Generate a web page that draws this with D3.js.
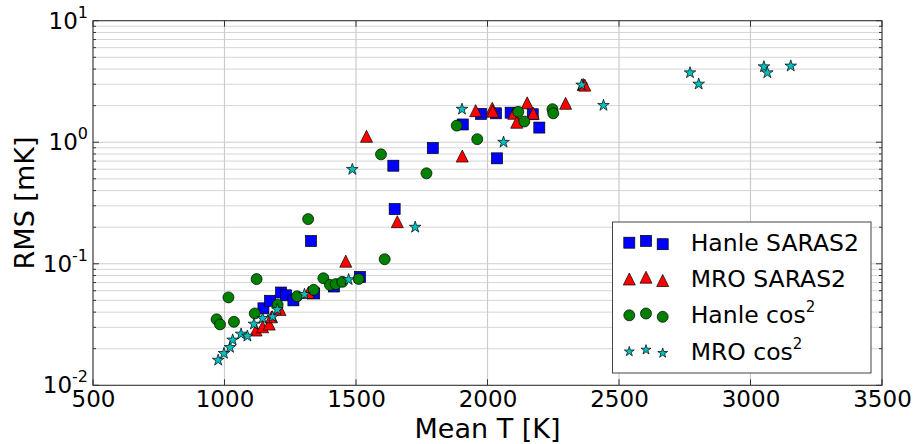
<!DOCTYPE html>
<html>
<head>
<meta charset="utf-8">
<script src="https://cdnjs.cloudflare.com/ajax/libs/d3/7.8.5/d3.min.js"></script>
<style>
  body { margin: 0; background: #fff; }
  text { font-family: "DejaVu Sans", sans-serif; fill: #000; }
</style>
</head>
<body>
<div id="chart"></div>
<script>
// Mean T [K] and RMS [mK] for each series
var hanleSarasT   = [1148, 1173, 1215, 1234, 1262, 1329, 1341, 1416, 1515, 1642, 1647, 1792, 1906, 1975, 2032, 2036, 2088, 2172, 2197];
var hanleSarasRms = [0.043, 0.0496, 0.058, 0.055, 0.050, 0.154, 0.057, 0.065, 0.078, 0.641, 0.282, 0.896, 1.40, 1.71, 1.73, 0.737, 1.75, 1.70, 1.32];

var mroSarasT   = [1120, 1145, 1170, 1179, 1211, 1319, 1461, 1540, 1657, 1904, 1955, 2018, 2020, 2100, 2111, 2151, 2174, 2297, 2364, 2370];
var mroSarasRms = [0.0285, 0.0303, 0.0319, 0.0366, 0.042, 0.058, 0.105, 1.12, 0.222, 0.77, 1.82, 1.90, 1.80, 1.73, 1.46, 2.11, 1.73, 2.09, 2.99, 2.95];

var hanleCosT   = [970, 983, 1015, 1036, 1115, 1122, 1202, 1276, 1318, 1339, 1376, 1401, 1423, 1448, 1510, 1595, 1609, 1768, 1883, 1961, 2117, 2140, 2247, 2250];
var hanleCosRms = [0.0349, 0.0317, 0.0529, 0.0333, 0.039, 0.0748, 0.046, 0.054, 0.233, 0.061, 0.076, 0.067, 0.068, 0.071, 0.075, 0.795, 0.109, 0.555, 1.37, 1.06, 1.78, 1.48, 1.87, 1.73];

var mroCosT   = [976, 998, 1021, 1031, 1063, 1087, 1112, 1145, 1183, 1201, 1304, 1472, 1486, 1725, 1903, 2061, 2358, 2441, 2770, 2803, 3051, 3064, 3153];
var mroCosRms = [0.0161, 0.0183, 0.0205, 0.0236, 0.0264, 0.0254, 0.0319, 0.0355, 0.0366, 0.042, 0.056, 0.074, 0.598, 0.2, 1.87, 1.0, 2.96, 2.01, 3.73, 3.01, 4.18, 3.73, 4.24];

var seriesNames = ["Hanle SARAS2", "MRO SARAS2", "Hanle cos", "MRO cos"];
var xTicks = [500, 1000, 1500, 2000, 2500, 3000, 3500];
var yTicks = [0.01, 0.1, 1, 10];
var yExponents = ["-2", "-1", "0", "1"];

var width = 915, height = 444;
var m = { left: 93, right: 882, top: 20.7, bottom: 385.3 };

var xScale = d3.scaleLinear().domain([500, 3500]).range([m.left, m.right]);
var yScale = d3.scaleLog().domain([0.01, 10]).range([m.bottom, m.top]);

var svg = d3.select("#chart").append("svg")
    .attr("width", width)
    .attr("height", height);

// minor + major grid on y (log), major only on x
var minorY = [];
[0.01, 0.1, 1].forEach(function(d){
  for (var k = 2; k <= 9; k++) minorY.push(d * k);
});

var grid = svg.append("g").attr("class", "grid");
grid.selectAll(".minor").data(minorY).enter().append("line")
    .attr("x1", m.left).attr("x2", m.right)
    .attr("y1", function(d){ return yScale(d); })
    .attr("y2", function(d){ return yScale(d); })
    .attr("stroke", "#d6d6d6").attr("stroke-width", 1);
grid.selectAll(".majy").data(yTicks).enter().append("line")
    .attr("x1", m.left).attr("x2", m.right)
    .attr("y1", function(d){ return yScale(d); })
    .attr("y2", function(d){ return yScale(d); })
    .attr("stroke", "#cccccc").attr("stroke-width", 1.2);
grid.selectAll(".majx").data(xTicks).enter().append("line")
    .attr("y1", m.top).attr("y2", m.bottom)
    .attr("x1", function(d){ return xScale(d); })
    .attr("x2", function(d){ return xScale(d); })
    .attr("stroke", "#cccccc").attr("stroke-width", 1.2);

// inward ticks on all four sides
var ticks = svg.append("g").attr("stroke", "#333").attr("stroke-width", 1);
xTicks.forEach(function(d){
  var x = xScale(d);
  ticks.append("line").attr("x1", x).attr("x2", x).attr("y1", m.bottom).attr("y2", m.bottom - 6);
  ticks.append("line").attr("x1", x).attr("x2", x).attr("y1", m.top).attr("y2", m.top + 6);
});
yTicks.concat(minorY).forEach(function(d){
  var y = yScale(d), len = yTicks.indexOf(d) >= 0 ? 6 : 3;
  ticks.append("line").attr("x1", m.left).attr("x2", m.left + len).attr("y1", y).attr("y2", y);
  ticks.append("line").attr("x1", m.right).attr("x2", m.right - len).attr("y1", y).attr("y2", y);
});

// x axis labels
svg.append("g")
    .attr("transform", "translate(0," + m.bottom + ")")
    .call(d3.axisBottom(xScale).tickValues(xTicks).tickSize(0).tickFormat(d3.format("d")))
    .call(function(g){ g.select(".domain").remove(); })
    .selectAll("text")
    .attr("dy", null)
    .attr("y", 22)
    .attr("fill", "#000")
    .style("font-family", "DejaVu Sans")
    .style("font-size", "23px");

// y axis labels as 10^n
var yLab = svg.append("g").selectAll("text").data(yTicks).enter().append("text")
    .attr("x", 88)
    .attr("y", function(d){ return yScale(d) + 8; })
    .attr("text-anchor", "end")
    .style("font-size", "23px");
yLab.append("tspan").text("10");
yLab.append("tspan")
    .attr("dy", -11)
    .style("font-size", "16px")
    .text(function(d, i){ return yExponents[i]; });

svg.append("text")
    .attr("x", xScale(2000))
    .attr("y", 438)
    .attr("text-anchor", "middle")
    .style("font-size", "27px")
    .text("Mean T [K]");

svg.append("text")
    .attr("transform", "translate(34," + ((m.top + m.bottom) / 2) + ") rotate(-90)")
    .attr("text-anchor", "middle")
    .style("font-size", "27px")
    .text("RMS [mK]");

// marker shapes
var shapes = [
  function(g, s){ return g.append("rect").attr("x", -5.5 * s).attr("y", -5.5 * s).attr("width", 11 * s).attr("height", 11 * s); },
  function(g, s){ var r = 6 * s; return g.append("path").attr("d", "M0," + (-r) + "L" + (-r) + "," + r + "L" + r + "," + r + "Z"); },
  function(g, s){ return g.append("circle").attr("r", 5.5 * s); },
  function(g, s){ return g.append("path").attr("d", d3.symbol().type(d3.symbolStar).size(42 * s * s)()); }
];
var colors = ["#0000ff", "#ff0000", "#008000", "#00bfbf"];

var series = [
  d3.zip(hanleSarasT, hanleSarasRms),
  d3.zip(mroSarasT, mroSarasRms),
  d3.zip(hanleCosT, hanleCosRms),
  d3.zip(mroCosT, mroCosRms)
];

var plot = svg.append("g");
series.forEach(function(data, i){
  plot.append("g").selectAll("g").data(data).enter().append("g")
      .attr("transform", function(d){ return "translate(" + xScale(d[0]) + "," + yScale(d[1]) + ")"; })
      .each(function(){
        shapes[i](d3.select(this), 1)
          .attr("fill", colors[i])
          .attr("stroke", "#000")
          .attr("stroke-width", 0.7);
      });
});

// frame
svg.append("rect")
    .attr("x", m.left).attr("y", m.top)
    .attr("width", m.right - m.left).attr("height", m.bottom - m.top)
    .attr("fill", "none").attr("stroke", "#333").attr("stroke-width", 1);

// legend
var legend = svg.append("g");
legend.append("rect")
    .attr("x", 612.5).attr("y", 222)
    .attr("width", 258.5).attr("height", 151)
    .attr("fill", "#fff").attr("stroke", "#444").attr("stroke-width", 1);

var markerX = [629.3, 646, 662.7], markerDy = [0, -1.8, 1.5];
seriesNames.forEach(function(name, i){
  var cy = 242.7 + i * 36.3;
  markerX.forEach(function(mx, j){
    var g = legend.append("g").attr("transform", "translate(" + mx + "," + (cy + markerDy[j]) + ")");
    shapes[i](g, i == 3 ? 0.85 : 1)
      .attr("fill", colors[i]).attr("stroke", "#000").attr("stroke-width", 0.7);
  });
  var t = legend.append("text")
      .attr("x", 690.7)
      .attr("y", cy + 8)
      .style("font-size", "23.5px")
      .text(name);
  if (i >= 2) {
    t.append("tspan").attr("dy", -11).style("font-size", "15px").text("2");
  }
});
</script>
</body>
</html>
